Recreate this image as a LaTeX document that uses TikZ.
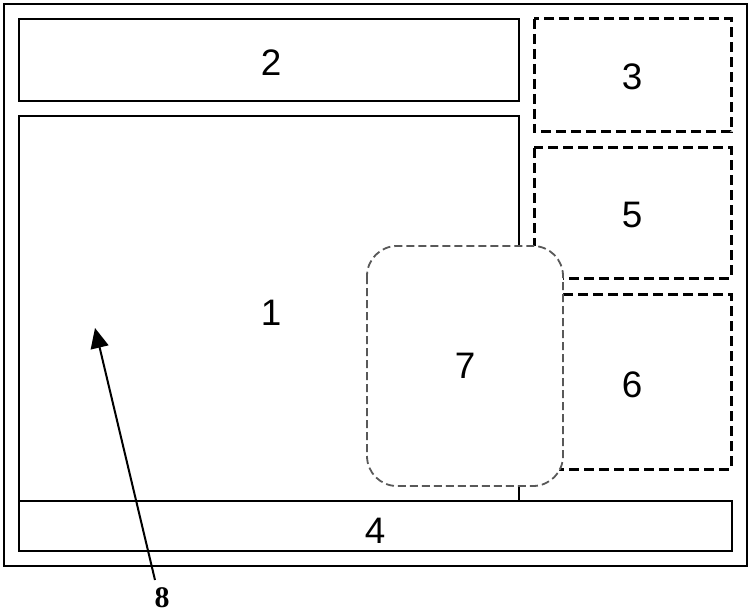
\documentclass[tikz,border=0pt]{standalone}
\usepackage{fontspec}
\setmainfont{Liberation Sans}
\newfontfamily\serifbold{Liberation Serif}
\usetikzlibrary{arrows.meta}
\begin{document}
\begin{tikzpicture}[x=1bp,y=-1bp,
  solidbox/.style={draw=black,line width=2bp},
  dashbox/.style={draw=black,line width=3bp,dash pattern=on 10bp off 5bp},
  roundbox/.style={draw=black!65,fill=white,line width=1.8bp,dash pattern=on 8bp off 4bp,rounded corners=30bp},
  lbl/.style={font=\fontsize{37}{37}\selectfont},
  every node/.style={inner sep=0pt}]
\useasboundingbox (0,0) rectangle (750,614);
% outer frame
\draw[solidbox,line width=2.6bp] (4,4) rectangle (747,566);
% box 2
\draw[solidbox,line width=2.6bp] (19,19) rectangle (519,101);
\node[lbl] (n2) at (271,63) {2};
% box 3
\draw[dashbox] (534,19) rectangle (731,132);
\node[lbl] (n3) at (632,77) {3};
% box 1
\draw[solidbox] (19,116) rectangle (519,501);
\node[lbl] (n1) at (271,313) {1};
% box 5
\draw[dashbox] (534,148) rectangle (731,278);
\node[lbl] (n5) at (632,215) {5};
% box 6
\draw[dashbox] (534,294) rectangle (731,469);
\node[lbl] (n6) at (632,385) {6};
% box 7
\draw[roundbox] (367,246) rectangle (563,486);
\node[lbl] (n7) at (465,366) {7};
% box 4
\draw[solidbox] (19,501) rectangle (732,551);
\draw[black,line width=2.8bp] (19,551) -- (732,551);
\node[lbl] (n4) at (375,531) {4};
% label 8 and arrow
\node[font=\serifbold\bfseries\fontsize{30}{30}\selectfont,anchor=base] (n8) at (162,607) {8};
\coordinate (tip) at (95,328);
\coordinate (tail) at (155,580);
\draw[line width=2bp,-{Triangle[length=20bp,width=18bp]}] (tail) -- (tip);
\end{tikzpicture}
\end{document}
